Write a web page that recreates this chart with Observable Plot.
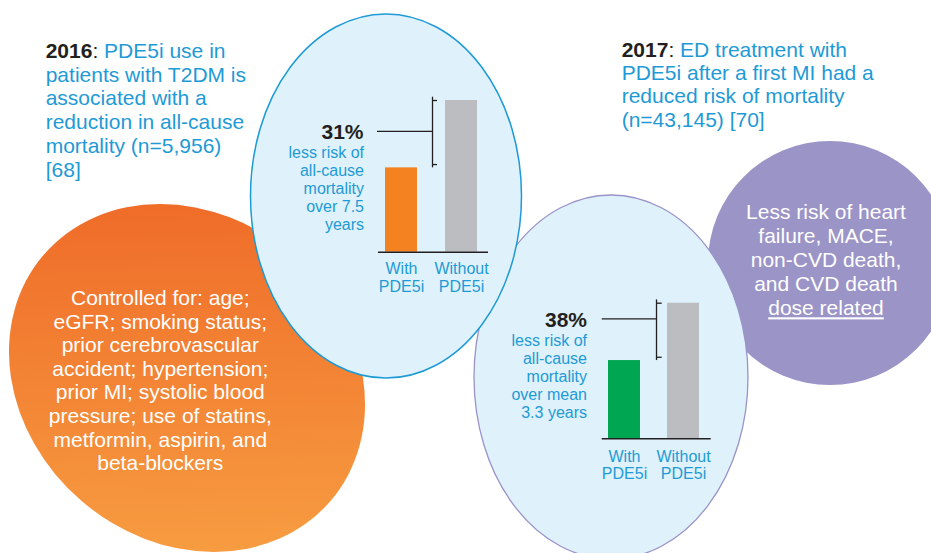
<!DOCTYPE html>
<html><head><meta charset="utf-8">
<script src="https://cdn.jsdelivr.net/npm/d3@7"></script>
<script src="https://cdn.jsdelivr.net/npm/@observablehq/plot@0.6"></script>
<style>
html,body{margin:0;padding:0;background:#fff;}
#root{position:relative;width:931px;height:553px;overflow:hidden;font-family:"Liberation Sans",Arial,sans-serif;}
#root svg{position:absolute;}
</style></head><body><div id="root"></div>
<script>
// ---- data ----
const categories = ["With PDE5i", "Without PDE5i"];
const mortality2016 = [55.6, 100];   // relative all-cause mortality, Without = 100
const mortality2017 = [57.7, 100];
const reduction2016 = "31%";
const reduction2017 = "38%";
const desc2016 = ["less risk of", "all-cause", "mortality", "over 7.5", "years"];
const desc2017 = ["less risk of", "all-cause", "mortality", "over mean", "3.3 years"];
const year2016 = "2016";
const head2016 = ["PDE5i use in", "patients with T2DM is", "associated with a", "reduction in all-cause", "mortality (n=5,956)", "[68]"];
const year2017 = "2017";
const head2017 = ["ED treatment with", "PDE5i after a first MI had a", "reduced risk of mortality", "(n=43,145) [70]"];
const controlled = ["Controlled for: age;", "eGFR; smoking status;", "prior cerebrovascular", "accident; hypertension;", "prior MI; systolic blood", "pressure; use of statins,", "metformin, aspirin, and", "beta-blockers"];
const heartLines = ["Less risk of heart", "failure, MACE,", "non-CVD death,", "and CVD death"];
const heartUnderlined = "dose related";

const BLUE = "#1e9ad6", DARK = "#231f20", GRAY = "#bcbdc0", LIGHT = "#dff2fb";
const FONT = '"Liberation Sans", Arial, sans-serif';

// ---- background shapes + text ----
const bg = d3.select("#root").append("svg").attr("width", 931).attr("height", 553)
  .style("left", "0px").style("top", "0px").attr("font-family", FONT);
const defs = bg.append("defs");
const grad = defs.append("linearGradient").attr("id", "og").attr("gradientUnits", "userSpaceOnUse")
  .attr("x1", 40).attr("y1", 215).attr("x2", 340).attr("y2", 545);
grad.append("stop").attr("offset", 0).attr("stop-color", "#ee6626");
grad.append("stop").attr("offset", 1).attr("stop-color", "#f8a344");

bg.append("circle").attr("cx", 830).attr("cy", 263).attr("r", 122).attr("fill", "#9b94c7");
bg.append("ellipse").attr("cx", 187).attr("cy", 378).attr("rx", 189).attr("ry", 162)
  .attr("transform", "rotate(40.7,187,378)").attr("fill", "url(#og)");
bg.append("ellipse").attr("cx", 611).attr("cy", 377).attr("rx", 137).attr("ry", 182)
  .attr("fill", LIGHT).attr("stroke", "#9a93c9").attr("stroke-width", 1.3);
bg.append("ellipse").attr("cx", 386).attr("cy", 196).attr("rx", 135.5).attr("ry", 182)
  .attr("fill", LIGHT).attr("stroke", BLUE).attr("stroke-width", 1.5);

function lines(arr, {x, y, step, anchor = "start", size, fill, weight = "normal", underlineLast = false}) {
  const t = bg.append("text").attr("font-size", size).attr("fill", fill)
    .attr("text-anchor", anchor).attr("font-weight", weight);
  arr.forEach((s, i) => {
    const sp = t.append("tspan").attr("x", x).attr("y", y + i * step).text(s);
    if (underlineLast && i === arr.length - 1) sp.attr("text-decoration", "underline");
  });
  return t;
}
function headline(year, arr, {x, y, step}) {
  const t = bg.append("text").attr("font-size", 21).attr("fill", BLUE);
  const first = t.append("tspan").attr("x", x).attr("y", y);
  t.append("tspan").attr("font-weight", "bold").attr("fill", DARK).text(year).attr("x", x).attr("y", y);
  first.remove();
  t.append("tspan").attr("fill", DARK).text(": ");
  t.append("tspan").text(arr[0]);
  arr.slice(1).forEach((s, i) => t.append("tspan").attr("x", x).attr("y", y + (i + 1) * step).text(s));
}
headline(year2016, head2016, {x: 45.7, y: 58, step: 23.7});
headline(year2017, head2017, {x: 621.7, y: 56.7, step: 23.3});

lines(controlled, {x: 160.3, y: 305, step: 23.6, anchor: "middle", size: 21, fill: "#fff"});
lines([...heartLines, heartUnderlined], {x: 826, y: 219.3, step: 24, anchor: "middle", size: 21, fill: "#fff", underlineLast: true});

lines([reduction2016], {x: 363.5, y: 139.3, step: 0, anchor: "end", size: 21, fill: DARK, weight: "bold"});
lines(desc2016, {x: 364, y: 158, step: 18, anchor: "end", size: 16, fill: BLUE});
lines([reduction2017], {x: 587, y: 326.7, step: 0, anchor: "end", size: 21, fill: DARK, weight: "bold"});
lines(desc2017, {x: 587, y: 345.7, step: 18, anchor: "end", size: 16, fill: BLUE});

// ---- mini bar charts (Observable Plot) ----
function mini(values, cfg) {
  const data = categories.map((c, i) => ({category: c, value: values[i]}));
  const [withV, withoutV] = values;
  const p = Plot.plot({
    width: cfg.width, height: cfg.height,
    marginTop: cfg.mt, marginBottom: cfg.mb, marginLeft: cfg.ml, marginRight: cfg.mr,
    x: {domain: categories, paddingInner: cfg.pad, paddingOuter: 0, axis: null},
    y: {domain: [0, 100], axis: null},
    style: {background: "transparent", overflow: "visible", fontFamily: FONT},
    marks: [
      Plot.barY([data[0]], {x: "category", y: "value", fill: cfg.color}),
      Plot.barY([data[1]], {x: "category", y: "value", fill: GRAY}),
      Plot.ruleY([0], {stroke: DARK, strokeWidth: 1.6, insetLeft: cfg.baseL, insetRight: cfg.baseR}),
      Plot.ruleX([categories[1]], {y1: withV, y2: withoutV, dx: cfg.brDx, insetBottom: 3.3, stroke: DARK, strokeWidth: 1.3}),
      Plot.ruleY([withoutV], {stroke: DARK, strokeWidth: 1.3, insetLeft: cfg.tickL, insetRight: cfg.tickR}),
      Plot.ruleY([withV], {dy: -3.3, stroke: DARK, strokeWidth: 1.3, insetLeft: cfg.tickL, insetRight: cfg.tickR}),
      Plot.ruleY([cfg.pointer], {stroke: DARK, strokeWidth: 1.3, insetLeft: cfg.ptrL, insetRight: cfg.ptrR}),
      Plot.text(categories, {x: d => d, y: 0, text: d => d.replace(" ", "\n"), lineAnchor: "top",
        dy: cfg.labDy, fill: BLUE, fontSize: 16, lineHeight: 1.1})
    ]
  });
  p.style.position = "absolute";
  p.style.left = cfg.left + "px";
  p.style.top = cfg.top + "px";
  document.getElementById("root").appendChild(p);
}

mini(mortality2016, {
  left: 360, top: 90, width: 140, height: 215, mt: 10, mb: 53.3, ml: 25, mr: 23, pad: 0.4667,
  color: "#f58220", baseL: -7, baseR: -11, brDx: -29, tickL: 47, tickR: 40,
  pointer: 79.6, ptrL: -8, ptrR: 45, labDy: 9.5
});
mini(mortality2017, {
  left: 580, top: 280, width: 145, height: 215, mt: 22.7, mb: 56.7, ml: 28, mr: 25.5, pad: 0.462,
  color: "#00a651", baseL: -6.3, baseR: -11.2, brDx: -27, tickL: 48.7, tickR: 37.8,
  pointer: 88.5, ptrL: -6.3, ptrR: 42.8, labDy: 10.5
});
</script></body></html>
